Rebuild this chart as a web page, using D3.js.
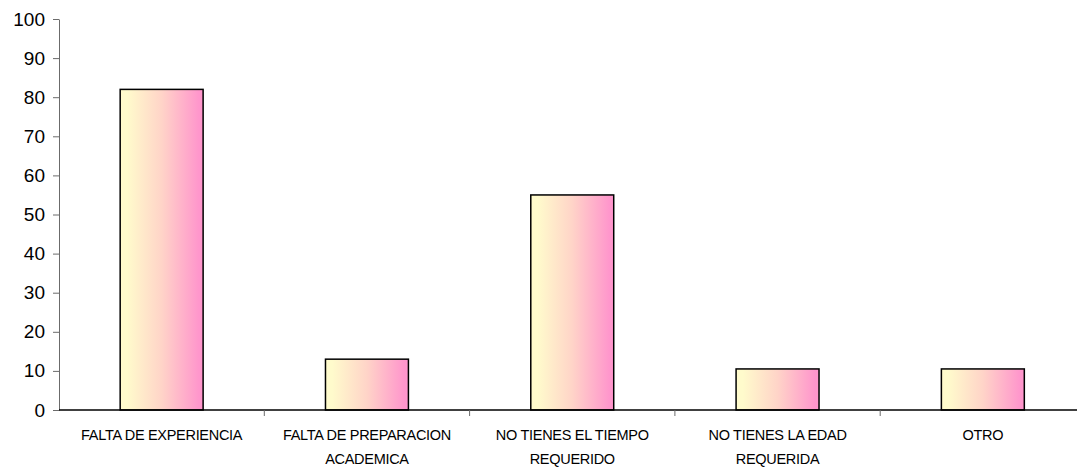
<!DOCTYPE html>
<html>
<head>
<meta charset="utf-8">
<script src="https://cdn.jsdelivr.net/npm/d3@7"></script>
<style>
  html, body { margin: 0; padding: 0; background: #fff; }
  svg { display: block; }
  text { font-family: "Liberation Sans", Arial, sans-serif; fill: #000; }
</style>
</head>
<body>
<svg id="chart" width="1077" height="468"></svg>
<script>
// Categories (two-line labels) and their percentages
const categories = [
  ["FALTA DE EXPERIENCIA"],
  ["FALTA DE PREPARACION", "ACADEMICA"],
  ["NO TIENES EL TIEMPO", "REQUERIDO"],
  ["NO TIENES LA EDAD", "REQUERIDA"],
  ["OTRO"]
];
const values = [82, 13, 55, 10.5, 10.5];
const yTicks = [0, 10, 20, 30, 40, 50, 60, 70, 80, 90, 100];

const svg = d3.select("#chart");
const x0 = 59, x1 = 1085.5, yBottom = 410, yTop = 19;

const x = d3.scaleBand()
  .domain(d3.range(categories.length))
  .range([x0, x1])
  .paddingInner(0.596)
  .paddingOuter(0.298);

const y = d3.scaleLinear().domain([0, 100]).range([yBottom, yTop]);

// Horizontal gradient used to fill each bar
const grad = svg.append("defs").append("linearGradient")
  .attr("id", "barFill")
  .attr("x1", "0%").attr("x2", "100%").attr("y1", "0%").attr("y2", "0%");
grad.append("stop").attr("offset", "0.08").attr("stop-color", "#FFFBCC");
grad.append("stop").attr("offset", "0.5").attr("stop-color", "#FFD4C8");
grad.append("stop").attr("offset", "0.95").attr("stop-color", "#FF96CC");

// Bars
svg.append("g").selectAll("rect")
  .data(values)
  .join("rect")
  .attr("x", (d, i) => x(i))
  .attr("y", d => y(d))
  .attr("width", x.bandwidth())
  .attr("height", d => y(0) - y(d))
  .attr("fill", "url(#barFill)")
  .attr("stroke", "#000")
  .attr("stroke-width", 1.5);

// Y axis
const yAxis = svg.append("g")
  .attr("transform", `translate(${x0},0)`)
  .call(d3.axisLeft(y).tickValues(yTicks).tickSize(6).tickPadding(8).tickSizeOuter(0));
yAxis.select(".domain").attr("stroke", "#6b6b6b").attr("stroke-width", 1);
yAxis.selectAll(".tick line").attr("stroke", "#6b6b6b");
yAxis.selectAll(".tick text")
  .style("font-size", "19px")
  .style("font-family", "'Liberation Sans', Arial, sans-serif");

// X axis: baseline with ticks on category boundaries
const boundaries = d3.range(1, categories.length).map(i => x0 + i * x.step());
const xAxis = svg.append("g").attr("transform", `translate(0,${yBottom})`);
xAxis.append("line")
  .attr("x1", x0).attr("x2", x1)
  .attr("stroke", "#000").attr("stroke-width", 1.5);
xAxis.selectAll("line.tick")
  .data(boundaries)
  .join("line")
  .attr("class", "tick")
  .attr("x1", d => d).attr("x2", d => d)
  .attr("y1", 0).attr("y2", 6)
  .attr("stroke", "#6b6b6b");

// Category labels
const labels = svg.append("g").selectAll("text")
  .data(categories)
  .join("text")
  .attr("x", (d, i) => x(i) + x.bandwidth() / 2)
  .attr("y", 440)
  .attr("text-anchor", "middle")
  .style("font-size", "14.5px")
  .style("letter-spacing", "-0.3px");
labels.selectAll("tspan")
  .data(d => d)
  .join("tspan")
  .attr("x", function () { return d3.select(this.parentNode).attr("x"); })
  .attr("dy", (d, i) => i === 0 ? 0 : 24)
  .text(d => d);
</script>
</body>
</html>
